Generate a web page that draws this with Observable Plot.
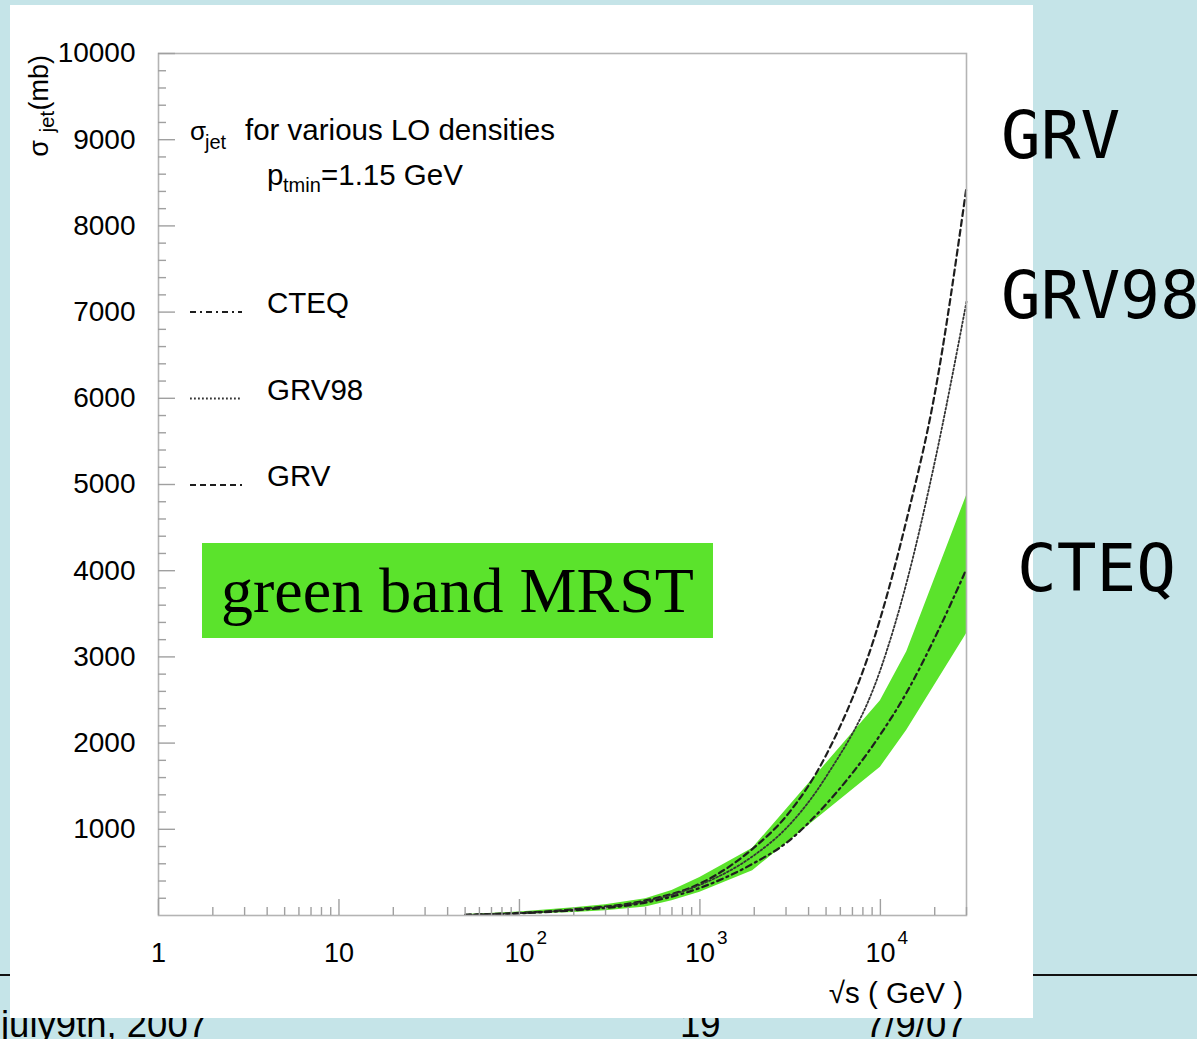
<!DOCTYPE html>
<html>
<head>
<meta charset="utf-8">
<script src="https://cdn.jsdelivr.net/npm/d3@7"></script>
<script src="https://cdn.jsdelivr.net/npm/@observablehq/plot@0.6"></script>
<style>
  html, body { margin: 0; padding: 0; background: #c5e4e8; }
  #slide { position: relative; width: 1197px; height: 1039px; overflow: hidden; background: #c5e4e8;
           font-family: "Liberation Sans", Arial, sans-serif; }
  .foot { position: absolute; top: 1007px; font-size: 36.5px; line-height: 1; color: #000; white-space: nowrap; }
  #rule { position: absolute; left: 0; top: 974px; width: 1197px; height: 2px; background: #111; }
  #panel { position: absolute; left: 10px; top: 5px; width: 1023px; height: 1013px; background: #fff; }
  #chart { position: absolute; left: 0; top: 0; }
  #chart svg { display: block; }
  .side { position: absolute; font-family: "DejaVu Sans Mono", monospace; font-size: 66px; line-height: 1; color: #000; }
  #mrst { position: absolute; left: 202px; top: 543px; width: 511px; height: 95px; background: #5be32c;
          font-family: "Liberation Serif", "Times New Roman", serif; font-size: 64px; line-height: 95px;
          padding-left: 19px; box-sizing: border-box; color: #000; white-space: nowrap; }
</style>
</head>
<body>
<div id="slide">
  <div class="foot" style="left:1px">july9th, 2007</div>
  <div class="foot" style="left:680px">19</div>
  <div class="foot" style="left:865px">7/9/07</div>
  <div id="rule"></div>
  <div id="panel"></div>
  <div id="chart"></div>
  <div id="mrst">green band MRST</div>
  <div class="side" style="left:1001px; top:103px">GRV</div>
  <div class="side" style="left:1001px; top:263px">GRV98</div>
  <div class="side" style="left:1017px; top:536px">CTEQ</div>
</div>
<script>
// Jet cross section vs centre-of-mass energy for several LO parton densities
const energy = [50, 100, 200, 500, 1000, 2000, 3000, 5000, 10000, 14000, 20000, 30000]; // √s (GeV)
const grv    = [8, 30, 72, 175, 370, 790, 1150, 1860, 3450, 4600, 6050, 8450];        // σ_jet (mb)
const grv98  = [8, 28, 66, 165, 355, 700, 1010, 1610, 2850, 3870, 5260, 7120];
const cteq   = [6, 25, 60, 150, 320, 610, 840, 1290, 2100, 2590, 3220, 4020];

// MRST uncertainty band
const bandEnergy = [50, 100, 200, 300, 500, 700, 1000, 1960, 10000, 14000, 30000];
const mrstHigh   = [12, 40, 90, 125, 195, 290, 440, 780, 2490, 3060, 4870];
const mrstLow    = [3, 12, 35, 55, 100, 170, 270, 520, 1720, 2150, 3270];

// legend order, top to bottom
const legendNames = ["CTEQ", "GRV98", "GRV"];

// axis ticks
const yMajor = d3.range(1000, 10001, 1000);
const yMinor = d3.range(0, 10001, 200).filter(v => v % 1000 !== 0);
const xMajor = [1, 10, 100, 1000, 10000];
const xMinor = d3.range(0, 5).flatMap(p => d3.range(2, 10).map(m => m * 10 ** p)).filter(v => v <= 30000);

const FONT = "Liberation Sans, Arial, Helvetica, sans-serif";

const series = { GRV: grv, GRV98: grv98, CTEQ: cteq };
const curves = Object.entries(series).flatMap(([pdf, vals]) =>
  energy.map((e, i) => ({ pdf, e, sigma: vals[i] })));
const band = bandEnergy.map((e, i) => ({ e, lo: mrstLow[i], hi: mrstHigh[i] }));

const styles = {
  GRV:   { stroke: "#1e1e1e", strokeWidth: 2.2, strokeDasharray: "6 4" },
  GRV98: { stroke: "#333333", strokeWidth: 1.8, strokeDasharray: "1.8 2.2" },
  CTEQ:  { stroke: "#1e1e1e", strokeWidth: 2.2, strokeDasharray: "6 4 2 4" }
};

// subtitle, legend and axis titles, laid out relative to the frame
function annotations(index, scales, values, dims) {
  const L = dims.marginLeft, T = dims.marginTop;
  const B = dims.height - dims.marginBottom, R = dims.width - dims.marginRight;
  const g = d3.create("svg:g").attr("font-family", FONT).attr("fill", "#000");
  const put = (x, y, size, str, anchor = "start") =>
    g.append("text").attr("x", x).attr("y", y).attr("font-size", size)
      .attr("text-anchor", anchor).text(str);

  // subtitle
  put(L + 32, T + 87, 26, "σ");
  put(L + 47, T + 96, 20, "jet");
  put(L + 87, T + 87, 29.5, "for various LO densities");
  put(L + 109, T + 132, 29.5, "p");
  put(L + 125, T + 139, 20, "tmin");
  put(L + 163, T + 132, 29.5, "=1.15 GeV");

  // legend
  legendNames.forEach((name, i) => {
    const y = T + 260 + i * 86.5;
    const s = styles[name];
    g.append("line").attr("x1", L + 32).attr("x2", L + 84).attr("y1", y - 1).attr("y2", y - 1)
      .attr("stroke", s.stroke).attr("stroke-width", s.strokeWidth)
      .attr("stroke-dasharray", s.strokeDasharray);
    put(L + 109, y, 29.5, name);
  });

  // y axis title, rotated
  const yt = g.append("g").attr("transform", `translate(48,${T + 2}) rotate(-90)`);
  yt.append("text").attr("text-anchor", "end").attr("font-size", 27).text("(mb)");
  yt.append("text").attr("x", -56).attr("y", 6).attr("text-anchor", "end").attr("font-size", 20).text("jet");
  yt.append("text").attr("x", -85).attr("text-anchor", "end").attr("font-size", 27).text("σ");

  // x axis title
  put(R - 3, B + 88, 29.5, "√s ( GeV )", "end");
  return g.node();
}

const chart = Plot.plot({
  width: 1197,
  height: 1039,
  marginLeft: 158,
  marginRight: 231,
  marginTop: 53,
  marginBottom: 124,
  style: { background: "transparent", fontFamily: FONT, color: "#000", overflow: "visible" },
  x: { type: "log", domain: [1, 30000] },
  y: { domain: [0, 10000] },
  marks: [
    Plot.areaY(band, { x: "e", y1: "lo", y2: "hi", fill: "#5be32c" }),
    ...Object.keys(series).map(name =>
      Plot.line(curves.filter(d => d.pdf === name), {
        x: "e", y: "sigma", curve: "monotone-x", ...styles[name]
      })),
    Plot.frame({ stroke: "#b4b4b4", strokeWidth: 1.6 }),
    // inward ticks
    Plot.axisY({ ticks: yMajor, tickSize: -17, fill: "none", stroke: "#a0a0a0", strokeWidth: 1.4, label: null }),
    Plot.axisY({ ticks: yMinor, tickSize: -8, fill: "none", stroke: "#a0a0a0", strokeWidth: 1.4, label: null }),
    Plot.axisX({ ticks: xMajor, tickSize: -16, fill: "none", stroke: "#a0a0a0", strokeWidth: 1.4, label: null }),
    Plot.axisX({ ticks: xMinor, tickSize: -8, fill: "none", stroke: "#a0a0a0", strokeWidth: 1.4, label: null }),
    // tick labels
    Plot.axisY({ ticks: yMajor, tickSize: 0, tickPadding: 23, tickFormat: d => String(d), fontSize: 28, label: null }),
    Plot.axisX({ ticks: xMajor, tickSize: 0, tickPadding: 27, tickFormat: d => d < 100 ? String(d) : "10",
                 fontSize: 27, label: null }),
    Plot.text(xMajor.filter(d => d >= 100), {
      x: d => d, text: d => String(Math.round(Math.log10(d))), frameAnchor: "bottom",
      dx: 17, dy: 15, textAnchor: "start", lineAnchor: "top", fontSize: 19
    }),
    annotations
  ]
});

document.getElementById("chart").appendChild(chart);
</script>
</body>
</html>
